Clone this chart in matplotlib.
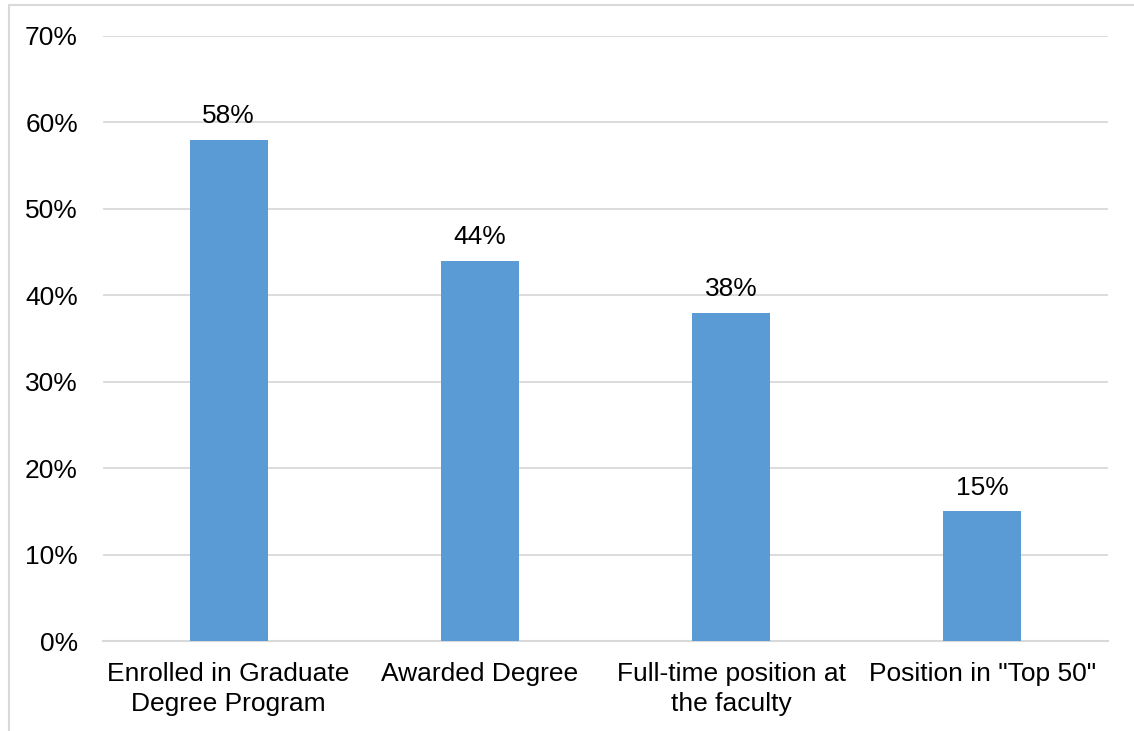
import matplotlib.pyplot as plt
from matplotlib.patches import Rectangle

# Data
categories = ['Enrolled in Graduate\nDegree Program', 'Awarded Degree',
              'Full-time position at\nthe faculty', 'Position in "Top 50"']
values = [58, 44, 38, 15]
yticks = [0, 10, 20, 30, 40, 50, 60, 70]

plt.rcParams['font.family'] = ['Liberation Sans', 'DejaVu Sans']

fig = plt.figure(figsize=(11.34, 7.31), dpi=100)
ax = fig.add_axes([0.0908, 0.1231, 0.8862, 0.8277])

# light outer border of the chart area
fig.patches.append(Rectangle((9 / 1134, -0.05), 1.2, 1 - 5 / 731 + 0.05,
                             transform=fig.transFigure, fill=False,
                             edgecolor='#D9D9D9', linewidth=1.5))

x = range(len(categories))
bars = ax.bar(x, values, width=0.31, color='#5B9BD5', zorder=3)

for b, v in zip(bars, values):
    ax.annotate(f'{v}%', (b.get_x() + b.get_width() / 2, v),
                xytext=(0, 8.5), textcoords='offset points',
                ha='center', va='bottom', fontsize=19)

ax.set_xlim(-0.5, 3.5)
ax.set_ylim(0, 70)
ax.set_yticks(yticks)
ax.set_yticklabels([f'{t}%' for t in yticks])
ax.set_xticks(list(x))
ax.set_xticklabels(categories, linespacing=1.35)
ax.tick_params(axis='both', length=0, labelsize=19)
ax.tick_params(axis='y', pad=18)
ax.tick_params(axis='x', pad=15)

ax.grid(axis='y', color='#D9D9D9', linewidth=1.3, zorder=0)
for s in ['top', 'right', 'left']:
    ax.spines[s].set_visible(False)
ax.spines['bottom'].set_color('#D9D9D9')
ax.spines['bottom'].set_linewidth(1.5)

plt.savefig('out.png', dpi=100)
